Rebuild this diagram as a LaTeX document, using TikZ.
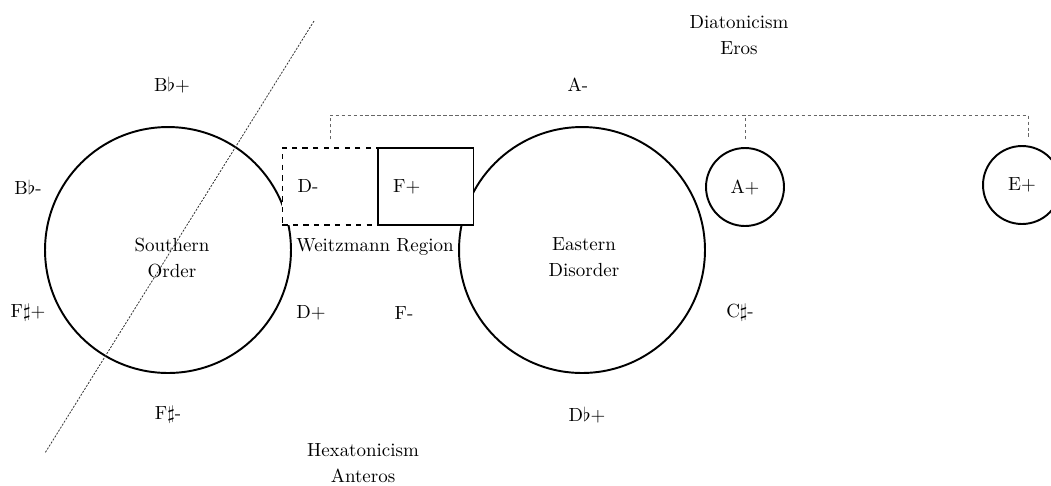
\documentclass[tikz,border=0pt]{standalone}
\usetikzlibrary{positioning, calc}
\begin{document}
\begin{tikzpicture}[x=0.02cm, y=-0.02cm,
    every node/.style={font=\fontsize{10.8}{15.2}\selectfont},
    region/.style={draw, circle, minimum size=4.92cm, line width=1.1pt, inner sep=0pt},
    key/.style={draw, circle, minimum size=1.56cm, line width=1.1pt, inner sep=0pt},
    cell/.style={draw, fill=white, minimum width=1.91cm, minimum height=1.54cm,
                 line width=0.85pt, inner sep=0pt},
    tone/.style={inner sep=1pt},
    label/.style={inner sep=0.5pt, align=center},
    bracket/.style={draw=black!60, dash pattern=on 2pt off 1.4pt, line width=0.5pt},
    cut/.style={draw=black!80, dash pattern=on 1.2pt off 0.8pt, line width=0.45pt},
]
\useasboundingbox (0,0) rectangle (1051,485);

% Regions
\node[region] (south) at (168,250) {};
\node[region] (east)  at (582,250) {};
\node[key] (aplus) at (745,187) {A+};
\node[key] (eplus) at (1022,185) {E+};

% Weitzmann cells
\node[cell, dashed] (dmin) at (330,186.5) {};
\node[cell] (fmaj) at (425.5,186.5) {};
\node[tone, anchor=west] at ([xshift=0.28cm]dmin.west) {D-};
\node[tone, anchor=west] at ([xshift=0.28cm]fmaj.west) {F+};
\node[label] (weitz) at (375,247) {Weitzmann Region};

% Cut line
\coordinate (cutA) at (314,21);
\coordinate (cutB) at (45,453);
\draw[cut] (cutA) -- (cutB);

% Region names
\node[label] (southlbl) at ($(south)+(4,8)$) {Southern\\Order};
\node[label] (eastlbl)  at ($(east)+(2,7)$) {Eastern\\Disorder};
\node[label] (dia) at (739,35) {Diatonicism\\Eros};
\node[label] (hex) at (363,463) {Hexatonicism\\Anteros};

% Triads
\node[tone] (bbplus)  at (172,85)  {B$\flat$+};
\node[tone] (bbminus) at (28,187)  {B$\flat$-};
\node[tone] (fsplus)  at (28,313)  {F$\sharp$+};
\node[tone] (fsminus) at (168,415) {F$\sharp$-};
\node[tone] (aminus)  at (578,85)  {A-};
\node[tone] (dplus)   at (311,313) {D+};
\node[tone] (fminus)  at (404,313) {F-};
\node[tone] (csminus) at (740,313) {C$\sharp$-};
\node[tone] (dbplus)  at (587,415) {D$\flat$+};

% Diatonic bracket
\coordinate (rail) at (0,115);
\coordinate (estub) at ([xshift=0.12cm, yshift=0.16cm]eplus.north);
\draw[bracket] ([yshift=0.16cm]dmin.north) |- (rail -| estub) -- (estub);
\draw[bracket] ([yshift=0.16cm]aplus.north) -- (aplus.north |- rail);

\end{tikzpicture}
\end{document}
